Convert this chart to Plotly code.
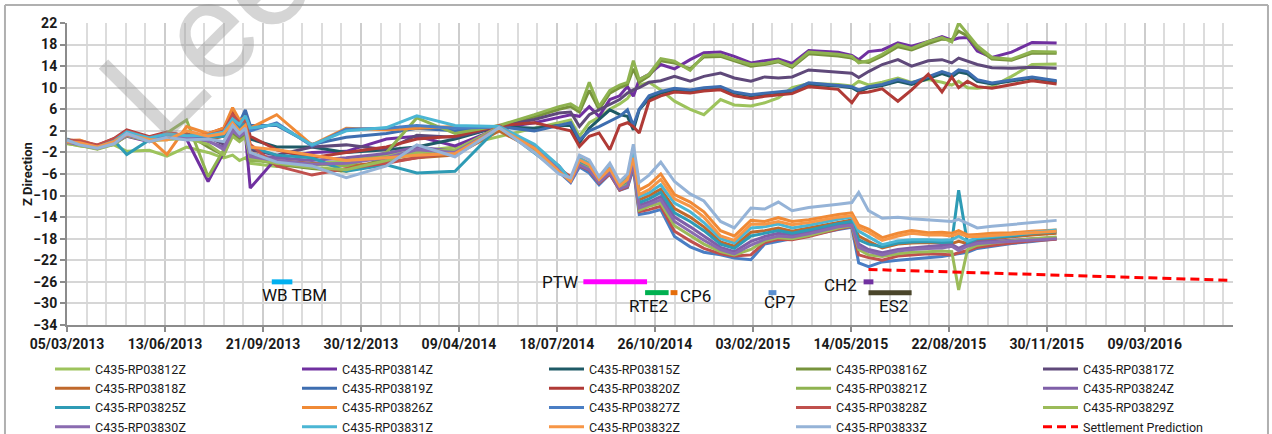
import plotly.graph_objects as go

# ---------------- data ----------------
dates = [
    "2013-03-05", "2013-03-18", "2013-04-05", "2013-04-22", "2013-05-05", "2013-05-28",
    "2013-06-15", "2013-07-05", "2013-07-27", "2013-08-12", "2013-08-21", "2013-08-28",
    "2013-09-03", "2013-09-08", "2013-10-05", "2013-11-10", "2013-12-15", "2014-01-25",
    "2014-02-25", "2014-04-05", "2014-05-20", "2014-06-25", "2014-07-20",
    "2014-08-01", "2014-08-10", "2014-08-20", "2014-08-30", "2014-09-10", "2014-09-20",
    "2014-09-28", "2014-10-04", "2014-10-10", "2014-10-20", "2014-11-01", "2014-11-15",
    "2014-12-01", "2014-12-15", "2015-01-01", "2015-01-15", "2015-02-01", "2015-02-15",
    "2015-03-01", "2015-03-15", "2015-04-01", "2015-05-01", "2015-05-15", "2015-05-22",
    "2015-06-01", "2015-06-15", "2015-07-01", "2015-07-15", "2015-08-01", "2015-08-15",
    "2015-08-25", "2015-09-01", "2015-09-10", "2015-09-20", "2015-10-05", "2015-10-25",
    "2015-11-15", "2015-12-10",
]

rp03812z = [-0.3, -0.8, -1.0, -0.6, -1.8, -1.6, -2.7, -1.0, -2.0, -3.0, -2.5, -3.5, -3.0, -4.0, -4.6, -4.2, -3.5, -2.5, -1.8, -1.0, 1.0, 2.5, 3.5,
            4.0, 1.0, 3.5, 4.5, 6.0, 7.0, 8.0, 9.5, 10.5, 11.0, 9.6, 7.5, 6.0, 5.0, 7.8, 6.8, 6.6, 7.2, 8.1, 10.0, 10.8, 10.6, 10.3, 11.2, 10.5, 11.0, 11.8, 11.0, 11.5, 11.0, 10.5, 11.2, 10.0, 9.9, 10.2, 12.1, 14.3, 14.4]
rp03814z = [0.2, -0.5, -1.2, -0.3, 1.0, 0.0, 0.8, 0.5, -7.4, -2.0, 2.0, 1.0, 1.5, -8.6, -3.0, -2.0, -1.8, 0.5, 1.0, -0.8, 2.5, 3.5, 4.5,
            5.0, 4.7, 6.5, 4.7, 7.8, 8.5, 10.2, 8.4, 11.5, 12.5, 14.3, 13.5, 15.2, 16.5, 16.6, 15.8, 14.6, 15.0, 15.3, 14.5, 16.9, 16.6, 16.0, 15.2, 16.7, 17.0, 18.3, 17.7, 18.6, 19.5, 18.8, 19.2, 19.3, 16.8, 15.6, 16.6, 18.4, 18.3]
rp03815z = [0.0, -0.6, -1.0, 0.0, 1.5, 0.2, 1.0, 0.8, 0.5, 1.0, 3.5, 2.5, 3.0, 0.5, -1.0, -1.0, -2.0, -1.5, -1.0, 0.5, 2.8, 2.5, 3.0,
            3.0, -0.2, 2.5, 4.1, 5.9, 5.0, 4.7, 2.2, 5.9, 8.0, 9.0, 9.6, 9.3, 9.8, 10.0, 9.0, 8.5, 8.8, 9.1, 9.3, 10.6, 10.3, 10.0, 9.3, 10.0, 10.4, 11.2, 10.6, 11.7, 12.6, 12.0, 12.9, 12.6, 11.2, 10.7, 11.2, 11.8, 11.1]
rp03816z = [-0.2, -0.6, -1.3, -0.4, 1.2, 0.3, 0.5, 1.5, -1.0, -2.5, 1.5, 0.5, 1.2, -3.0, -4.2, -5.0, -5.5, -3.0, -2.5, -2.0, 2.5, 4.5, 6.0,
            6.5, 5.5, 9.5, 6.0, 9.0, 10.0, 10.6, 13.5, 11.0, 12.2, 15.0, 14.6, 13.5, 15.7, 15.8, 15.0, 14.0, 14.3, 14.8, 13.8, 16.3, 15.9, 15.5, 14.9, 14.7, 15.9, 17.6, 17.0, 18.2, 19.0, 18.9, 20.5, 19.6, 17.4, 15.3, 15.1, 16.4, 16.4]
rp03817z = [0.1, -0.5, -1.1, 0.2, 1.6, 0.5, 1.2, 1.0, 0.8, -0.5, 3.0, 2.0, 2.5, -1.5, -2.5, -1.0, -0.6, -1.5, 1.2, 0.8, 2.8, 4.1, 5.3,
            5.5, 2.8, 5.0, 5.9, 7.0, 7.8, 9.0, 9.6, 10.0, 11.0, 11.3, 12.1, 11.2, 12.1, 12.7, 11.8, 11.2, 12.0, 11.8, 12.0, 13.3, 12.9, 12.7, 11.9, 13.0, 14.3, 15.2, 14.0, 15.0, 15.2, 14.6, 15.5, 15.0, 14.3, 13.7, 13.6, 13.8, 13.6]
rp03818z = [0.3, 0.2, -0.8, 0.3, 1.2, 0.6, 0.5, 1.5, 0.5, 1.0, 4.5, 3.0, 3.5, -2.0, -3.5, -4.0, -4.5, -3.8, -3.0, -2.5, 2.0, -1.5, -5.0,
            -7.0, -3.6, -4.5, -7.1, -5.1, -8.3, -7.2, -3.2, -10.8, -10.0, -8.8, -12.4, -14.0, -15.8, -18.6, -19.4, -16.8, -16.5, -16.0, -16.6, -16.0, -14.9, -14.5, -17.5, -18.5, -19.7, -19.0, -18.8, -18.7, -18.8, -18.9, -18.5, -18.9, -18.3, -18.0, -17.7, -17.3, -17.0]
rp03819z = [0.0, -0.4, -1.0, 0.3, 2.0, 0.8, 1.5, 1.2, 1.5, 2.0, 4.5, 3.5, 5.9, 3.0, 3.0, -0.5, 0.8, 1.5, 2.5, 2.0, 2.8, 2.0, 3.0,
            3.5, 0.3, 2.0, 2.8, 3.8, 4.7, 5.9, 3.0, 6.0, 8.5, 9.3, 9.9, 9.6, 10.0, 10.2, 9.2, 8.7, 9.0, 9.3, 9.5, 10.9, 10.5, 10.2, 9.6, 10.2, 10.6, 11.5, 10.9, 12.0, 13.0, 12.4, 13.3, 13.0, 11.5, 10.9, 11.4, 12.0, 11.3]
rp03820z = [0.2, 0.0, -0.7, 0.6, 2.2, 0.9, 1.8, 1.0, 1.5, 2.5, 5.5, 3.5, 4.5, 1.0, -1.5, -3.0, -2.0, -1.0, 0.5, 1.0, 3.0, 3.5, 2.5,
            2.0, -0.9, 1.0, 1.6, -1.5, 3.0, 3.5, 2.8, 1.6, 7.5, 8.5, 9.2, 9.0, 9.4, 9.6, 8.5, 8.0, 8.4, 8.7, 8.9, 10.2, 9.7, 7.2, 9.0, 9.2, 9.8, 7.5, 9.6, 12.5, 9.2, 12.0, 10.0, 11.2, 10.2, 9.9, 10.6, 11.3, 10.7]
rp03821z = [-0.1, -0.7, -1.2, -0.2, 1.4, 0.4, 1.6, 4.0, -6.5, -1.5, 3.5, 2.0, 2.5, -3.5, -3.8, -4.2, -4.5, -2.0, 4.4, 1.5, 3.0, 5.0, 6.5,
            7.0, 6.0, 11.0, 6.5, 9.5, 10.5, 11.0, 15.0, 11.5, 12.5, 15.4, 14.9, 13.2, 16.0, 16.1, 15.2, 14.3, 14.5, 15.0, 14.0, 16.6, 16.2, 15.8, 14.6, 15.0, 16.2, 18.0, 17.3, 18.6, 19.3, 18.5, 22.0, 20.0, 17.8, 15.6, 15.3, 16.7, 16.6]
rp03824z = [0.0, -0.5, -1.1, -0.1, 1.3, 0.2, 0.8, 0.8, 0.0, -1.0, 2.5, 1.5, 2.0, -2.5, -3.0, -3.5, -3.0, -2.2, -1.0, -1.8, 2.6, -1.0, -4.5,
            -7.2, -4.0, -4.8, -7.3, -5.5, -8.6, -7.8, -3.5, -11.8, -11.2, -10.2, -14.0, -15.8, -17.5, -19.6, -20.4, -18.5, -17.6, -17.0, -17.3, -16.8, -15.5, -15.2, -19.0, -20.0, -20.6, -20.0, -19.7, -19.5, -19.3, -19.1, -19.8, -19.0, -18.6, -18.5, -18.3, -18.0, -17.8]
rp03825z = [0.5, -0.5, -0.9, 0.2, -2.4, 0.3, 0.6, 0.8, 0.8, 1.0, 3.5, 2.5, 3.5, -1.0, -2.5, -3.0, -5.5, -4.3, -5.8, -5.5, 2.8, -2.0, -5.5,
            -7.3, -3.8, -4.6, -7.2, -5.3, -8.5, -7.5, -2.8, -11.3, -10.6, -9.4, -13.2, -14.8, -16.5, -19.0, -19.8, -17.5, -17.0, -16.5, -17.0, -16.4, -15.2, -14.8, -18.2, -19.0, -19.5, -18.8, -18.6, -18.5, -18.7, -18.6, -9.0, -18.8, -18.0, -17.8, -17.5, -17.0, -16.7]
rp03826z = [0.1, 0.3, -0.8, 0.4, 1.5, 0.6, -2.4, 2.8, 1.5, 2.5, 6.3, 4.0, 4.5, 2.5, 5.0, -0.6, 2.5, 2.2, 2.5, 2.8, 2.6, -1.0, -5.0,
            -7.0, -3.0, -4.0, -6.8, -4.5, -7.8, -6.5, -2.5, -9.0, -8.0, -6.0, -9.8, -11.2, -13.0, -16.5, -17.5, -14.6, -14.8, -14.1, -14.8, -14.5, -13.5, -13.2, -15.5, -16.2, -17.8, -17.0, -16.5, -16.9, -16.8, -17.0, -16.5, -17.3, -17.2, -17.0, -16.9, -16.6, -16.4]
rp03827z = [-0.1, -0.6, -1.3, -0.2, 1.5, 0.5, 1.2, 1.0, 1.0, 1.5, 4.0, 3.0, 4.5, 2.0, 3.5, -0.8, 2.3, 2.5, 3.0, 2.5, 2.7, -1.5, -5.5,
            -7.6, -4.7, -5.8, -8.0, -6.0, -9.0, -8.5, -5.0, -13.5, -13.2, -12.6, -17.6, -19.5, -20.5, -21.0, -21.6, -21.9, -19.0, -18.5, -18.0, -17.3, -16.3, -15.9, -22.5, -23.2, -22.3, -22.0, -21.8, -21.6, -21.3, -21.0, -20.8, -20.5, -19.8, -19.4, -18.9, -18.5, -18.0]
rp03828z = [0.3, 0.1, -0.6, 0.5, 2.0, 0.8, 1.6, 1.2, 1.2, 2.0, 5.0, 3.5, 4.0, -0.5, -4.5, -6.2, -5.0, -4.0, -3.0, -2.0, 3.0, -1.0, -5.0,
            -6.5, -4.5, -5.3, -7.7, -6.0, -9.0, -8.4, -4.3, -13.0, -12.6, -12.0, -16.6, -18.4, -19.8, -20.8, -21.2, -21.0, -18.7, -18.1, -18.2, -17.6, -16.2, -15.7, -21.0, -21.5, -22.0, -21.2, -21.0, -20.8, -20.9, -21.0, -20.6, -20.2, -19.6, -19.2, -18.8, -18.4, -18.1]
rp03829z = [-0.4, -0.7, -1.4, -0.5, 1.1, 0.1, 0.4, 0.6, -0.5, -2.5, 1.0, 0.0, 0.8, -3.0, -4.0, -4.8, -5.2, -3.5, -2.0, -1.5, 2.7, -1.5, -5.5,
            -7.0, -4.2, -5.0, -7.4, -5.6, -8.7, -8.0, -3.8, -12.7, -12.0, -11.4, -15.6, -17.4, -19.0, -20.4, -21.0, -20.0, -18.4, -17.8, -18.0, -17.4, -16.0, -15.6, -20.0, -21.0, -21.3, -20.8, -20.5, -20.4, -20.3, -20.4, -27.5, -20.0, -19.2, -18.8, -18.4, -18.0, -17.7]
rp03830z = [-0.1, -0.6, -1.2, -0.3, 1.2, 0.3, 0.7, 0.7, 0.2, -1.5, 2.0, 1.0, 1.8, -2.8, -3.5, -4.2, -4.0, -3.0, -1.5, -2.0, 2.6, -1.2, -4.8,
            -7.4, -4.3, -5.2, -7.5, -5.8, -8.8, -8.2, -4.0, -12.3, -11.6, -10.8, -14.8, -16.6, -18.3, -20.0, -20.8, -19.2, -18.1, -17.5, -17.7, -17.1, -15.8, -15.5, -19.6, -20.4, -21.0, -20.3, -20.0, -19.8, -19.7, -19.4, -20.2, -19.4, -18.9, -18.7, -18.5, -18.2, -18.0]
rp03831z = [0.2, -0.5, -1.0, 0.1, 1.8, 0.7, 1.4, 1.1, 1.2, 1.8, 4.2, 3.2, 4.8, 2.5, 3.2, -0.6, 2.0, 2.6, 4.8, 3.0, 2.8, -0.5, -4.5,
            -7.1, -3.2, -4.1, -6.9, -4.8, -8.0, -6.8, -2.0, -10.2, -9.5, -8.0, -11.4, -13.0, -15.0, -18.0, -18.8, -16.0, -15.8, -15.3, -16.0, -15.5, -14.4, -14.0, -16.6, -17.6, -19.1, -18.4, -18.2, -18.2, -18.3, -18.2, -17.5, -18.5, -17.8, -17.6, -17.2, -16.8, -16.4]
rp03832z = [0.0, -0.2, -1.0, 0.0, 1.3, 0.4, 0.3, 2.0, 1.0, 1.5, 3.5, 2.0, 3.0, -1.0, -1.5, -2.5, -3.5, -3.0, -2.5, -2.2, 2.5, -1.2, -5.5,
            -7.3, -3.4, -4.3, -7.0, -5.0, -8.2, -7.0, -3.0, -9.8, -8.9, -7.0, -10.6, -12.0, -14.0, -17.5, -18.3, -15.3, -15.3, -14.8, -15.4, -15.0, -14.0, -13.7, -16.0, -16.8, -18.3, -17.5, -17.0, -17.3, -17.3, -17.5, -17.0, -17.6, -17.6, -17.4, -17.2, -16.9, -16.6]
rp03833z = [0.3, -0.6, -1.2, -0.4, 1.5, 0.0, 0.8, 0.3, 0.5, 0.0, 3.0, 1.5, 2.5, -2.0, -3.8, -4.5, -6.7, -4.5, -0.6, -2.8, 2.6, -2.0, -6.0,
            -6.7, -2.5, -3.4, -6.5, -4.0, -7.4, -6.0, -0.5, -7.6, -6.2, -3.8, -7.4, -9.7, -11.0, -14.8, -16.0, -12.3, -12.5, -11.2, -12.8, -12.2, -11.6, -11.3, -9.4, -12.8, -14.2, -14.0, -14.3, -14.5, -14.6, -14.8, -14.4, -15.1, -16.0, -15.7, -15.4, -15.0, -14.6]

series_names = ["C435-RP03812Z", "C435-RP03814Z", "C435-RP03815Z", "C435-RP03816Z", "C435-RP03817Z",
                "C435-RP03818Z", "C435-RP03819Z", "C435-RP03820Z", "C435-RP03821Z", "C435-RP03824Z",
                "C435-RP03825Z", "C435-RP03826Z", "C435-RP03827Z", "C435-RP03828Z", "C435-RP03829Z",
                "C435-RP03830Z", "C435-RP03831Z", "C435-RP03832Z", "C435-RP03833Z"]
series_values = [rp03812z, rp03814z, rp03815z, rp03816z, rp03817z, rp03818z, rp03819z, rp03820z,
                 rp03821z, rp03824z, rp03825z, rp03826z, rp03827z, rp03828z, rp03829z, rp03830z,
                 rp03831z, rp03832z, rp03833z]

prediction_name = "Settlement Prediction"
prediction_dates = ["2015-06-01", "2016-06-03"]
prediction_values = [-23.7, -25.7]

event_names = ["WB TBM", "PTW", "RTE2", "CP6", "CP7", "CH2", "ES2"]
event_start = ["2013-09-30", "2014-08-14", "2014-10-16", "2014-11-11", "2015-02-19", "2015-05-27", "2015-06-01"]
event_end = ["2013-10-21", "2014-10-18", "2014-11-09", "2014-11-18", "2015-02-27", "2015-06-06", "2015-07-15"]
event_level = [-26, -26, -28, -28, -28, -26, -28]

x_tick_start = "2013-03-05"
x_range = ["2013-03-05", "2016-06-07"]
y_range = [-34, 22]
y_title = "Z Direction"
watermark_text = "Leeds"

# ---------------- styles ----------------
series_colors = ["#9dc35c", "#7030a0", "#1e5a66", "#77933c", "#5f497a",
                 "#c0692c", "#3e6eb0", "#b03a36", "#8fb350", "#7f5fa8",
                 "#2e9bb5", "#f08a36", "#4a7ec4", "#c0504d", "#9bbb59",
                 "#8a6bb0", "#4bb6d4", "#f79646", "#95b3d7"]
event_colors = ["#00b0f0", "#ff00ff", "#00b050", "#e46c0a", "#5b8fd0", "#7030a0", "#4a452a"]
# label placement: (x date, y value, xanchor)
event_label_pos = [("2013-10-23", -28.4, "center"), ("2014-08-11", -26.0, "right"),
                   ("2014-10-19", -30.5, "center"), ("2014-11-19", -28.7, "left"),
                   ("2015-03-02", -29.8, "center"), ("2015-05-22", -26.6, "right"),
                   ("2015-06-27", -30.5, "center")]

DAY = 86400000
FONT = "Roboto, Arial, sans-serif"
BORDER = "#b0b0b0"

fig = go.Figure()
for name, vals, col in zip(series_names, series_values, series_colors):
    fig.add_trace(go.Scatter(x=dates, y=vals, mode="lines", name=name,
                             line=dict(color=col, width=3), hoverinfo="skip"))

fig.add_trace(go.Scatter(x=prediction_dates, y=prediction_values, mode="lines", name=prediction_name,
                         line=dict(color="#ff0000", width=3, dash="9px,5px"), hoverinfo="skip"))

for nm, s, e, lv, col in zip(event_names, event_start, event_end, event_level, event_colors):
    fig.add_trace(go.Scatter(x=[s, e], y=[lv, lv], mode="lines", showlegend=False,
                             line=dict(color=col, width=5), hoverinfo="skip", name=nm))

annotations = []
for nm, (lx, ly, anc) in zip(event_names, event_label_pos):
    annotations.append(dict(x=lx, y=ly, xref="x", yref="y", text=nm, showarrow=False,
                            xanchor=anc, yanchor="middle",
                            font=dict(family=FONT, size=17, color="#111111")))

# y-axis title
annotations.append(dict(text=y_title, xref="paper", yref="paper", x=-0.0343, y=0.5,
                        xanchor="center", yanchor="middle", textangle=-90, showarrow=False,
                        font=dict(family=FONT, size=13, weight="bold", color="#1a1a1a")))

# watermark
annotations.append(dict(text=watermark_text, xref="paper", yref="paper", x=0.165, y=1.14,
                        xanchor="center", yanchor="middle", textangle=-45, showarrow=False,
                        font=dict(family=FONT, size=140, color="rgba(150,150,150,0.40)")))

# chart-area border: left, top and right edges drawn with explicit paper-pixel lines
border_shapes = [
    dict(type="line", xref="paper", yref="paper", x0=-0.0532, x1=-0.0532, y0=-0.40, y1=1.0600),
    dict(type="line", xref="paper", yref="paper", x0=-0.0532, x1=1.0300, y0=1.0600, y1=1.0600),
    dict(type="line", xref="paper", yref="paper", x0=1.0300, x1=1.0300, y0=-0.40, y1=1.0600),
]
for s in border_shapes:
    s.update(line=dict(color=BORDER, width=2), layer="above", visible=True)

fig.update_layout(
    width=1272, height=434,
    margin=dict(l=67, r=39, t=23, b=109, autoexpand=False),
    paper_bgcolor="white", plot_bgcolor="white",
    font=dict(family=FONT, color="#1a1a1a"),
    showlegend=True,
    annotations=annotations,
    shapes=border_shapes,
    legend=dict(orientation="h", x=-0.01458, xanchor="left", y=-0.0971, yanchor="top",
                entrywidth=197, entrywidthmode="pixels", itemwidth=35,
                font=dict(family=FONT, size=12.5, color="#1a1a1a"),
                bgcolor="rgba(0,0,0,0)", traceorder="normal"),
)
fig.update_xaxes(type="date", range=x_range, tick0=x_tick_start, dtick=100 * DAY,
                 tickformat="%d/%m/%Y", ticks="outside", ticklen=5, tickwidth=1.5, tickcolor="#8c8c8c",
                 showline=True, linecolor="#8c8c8c", linewidth=2,
                 showgrid=True, gridcolor="#cdcdcd", gridwidth=1.5,
                 minor=dict(dtick=20 * DAY, tick0=x_tick_start, showgrid=True,
                            gridcolor="#dcdcdc", gridwidth=1.5, ticks=""),
                 tickfont=dict(family=FONT, size=14, weight="bold", color="#1a1a1a"),
                 zeroline=False, fixedrange=True)
fig.update_yaxes(range=y_range, tick0=-34, dtick=4, ticks="outside", ticklen=5, tickwidth=1.5,
                 tickcolor="#8c8c8c", showline=True, linecolor="#8c8c8c", linewidth=2,
                 showgrid=True, gridcolor="#d6d6d6", gridwidth=1.5, zeroline=False,
                 tickfont=dict(family=FONT, size=14, weight="bold", color="#1a1a1a"),
                 fixedrange=True)

fig.write_html("out.html", config={"displayModeBar": False},
               post_script="document.body.style.margin='0';document.body.style.overflow='hidden';")
